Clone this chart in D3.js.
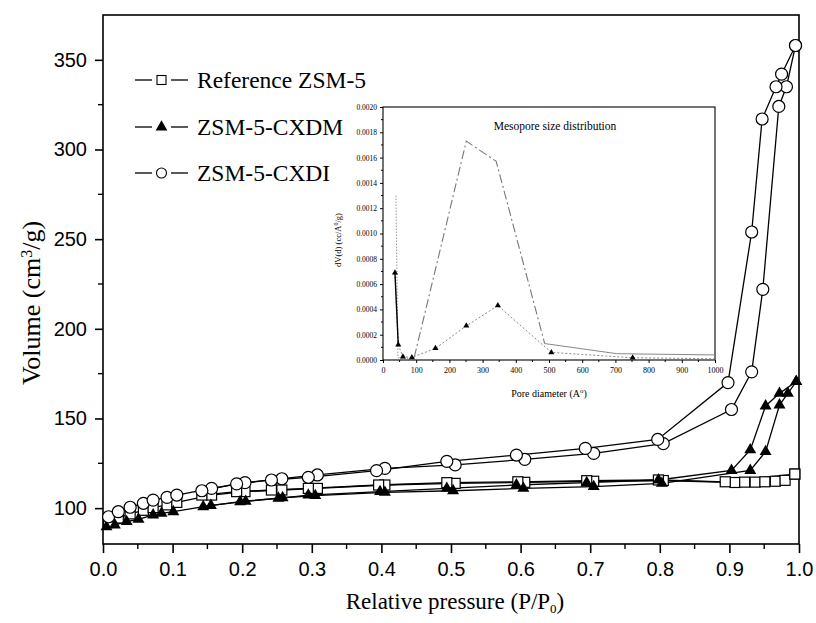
<!DOCTYPE html>
<html><head><meta charset="utf-8">
<script src="https://cdn.jsdelivr.net/npm/d3@7"></script>
<style>
html,body{margin:0;padding:0;background:#fff;}
svg{display:block;}
.serif{font-family:"Liberation Serif","Times New Roman",serif;}
.sans{font-family:"Liberation Sans",Arial,sans-serif;}
</style></head>
<body>
<script>
// ---------------- DATA ----------------
const xTicksMain = [0.0,0.1,0.2,0.3,0.4,0.5,0.6,0.7,0.8,0.9,1.0];
const yTicksMain = [100,150,200,250,300,350];
const seriesNames = ["Reference ZSM-5","ZSM-5-CXDM","ZSM-5-CXDI"];

// Reference ZSM-5 (open squares)
const refAds = [[0.008,92],[0.022,94.5],[0.039,96.8],[0.058,98.8],[0.072,100.3],[0.092,101.8],[0.106,103.2],[0.156,107.3],[0.204,109.2],[0.257,110.1],[0.308,111],[0.405,112.9],[0.506,113.8],[0.606,114.4],[0.705,115],[0.805,115.4],[0.908,114.3],[0.922,114.5],[0.937,114.5],[0.951,114.7],[0.966,115],[0.98,115.5],[0.994,119]];
const refDes = [[0.994,119],[0.894,114.7],[0.798,115.7],[0.695,115.3],[0.596,114.7],[0.494,114.2],[0.396,112.9],[0.295,111],[0.242,110.1],[0.192,109.2],[0.142,107.3]];

// ZSM-5-CXDM (filled triangles)
const cxdmAds = [[0.005,89.6],[0.017,90.6],[0.034,92.5],[0.051,93.8],[0.072,96.2],[0.084,97.1],[0.101,98],[0.155,101.5],[0.205,103.8],[0.258,105.8],[0.305,107],[0.405,108.8],[0.503,109.7],[0.604,111],[0.705,112],[0.803,113.8],[0.93,121],[0.952,131.5],[0.972,157.5],[0.984,164],[0.996,170.6]];
const cxdmDes = [[0.996,170.6],[0.972,164],[0.952,157],[0.93,132.5],[0.903,121],[0.798,115.7],[0.695,114.2],[0.594,112.9],[0.494,111],[0.398,109.2],[0.295,107.3],[0.252,105.5],[0.197,103.6],[0.144,100.8]];

// ZSM-5-CXDI (open circles)
const cxdiAds = [[0.008,95.2],[0.022,98],[0.039,100.5],[0.058,102.7],[0.072,104.5],[0.092,106],[0.106,107.3],[0.156,111],[0.204,114.2],[0.257,116.4],[0.308,118.5],[0.405,122.2],[0.506,124.1],[0.606,127.2],[0.705,130.5],[0.805,136],[0.903,155],[0.932,176],[0.948,222],[0.971,324],[0.982,335],[0.995,358]];
const cxdiDes = [[0.995,358],[0.975,342],[0.967,335],[0.947,317],[0.932,254],[0.898,170],[0.797,138.3],[0.693,133.3],[0.594,129.6],[0.494,126.1],[0.393,120.9],[0.295,117.2],[0.242,115.7],[0.192,113.5],[0.142,109.7]];

// Inset: mesopore size distribution
const insetXTicks = [0,100,200,300,400,500,600,700,800,900,1000];
const insetYTicks = [0,0.0002,0.0004,0.0006,0.0008,0.0010,0.0012,0.0014,0.0016,0.0018,0.0020];
const insetCxdiSpike = [[39,0.00130],[45,0.00002],[62,0.00001],[94,0.00002]];
const insetCxdiRise = [[94,0.00002],[251,0.00173],[341,0.00157],[487,0.00013]];
const insetCxdiTail = [[487,0.00013],[704,0.00005],[1000,0.00004]];
const insetCxdm = [[36,0.00069],[46,0.00012],[60,0.000026],[87,0.00002],[158,0.000092],[251,0.00027],[346,0.00043],[507,0.00006],[752,0.000018],[1000,0.00001]];

// ---------------- DRAW ----------------
const W=816, H=623;
const svg = d3.select("body").append("svg").attr("width",W).attr("height",H);
const x = d3.scaleLinear().domain([0,1]).range([103,799]);
const y = d3.scaleLinear().domain([80,375]).range([544,15]);

// frame
svg.append("rect").attr("x",x(0)).attr("y",y(375)).attr("width",x(1)-x(0)).attr("height",y(80)-y(375))
  .attr("fill","none").attr("stroke","#000").attr("stroke-width",1.6);

// x axis
const xAx = svg.append("g").attr("transform",`translate(0,${y(80)})`)
  .call(d3.axisBottom(x).tickValues(xTicksMain).tickFormat(d3.format(".1f")).tickSize(9).tickPadding(9));
xAx.select(".domain").remove();
xAx.attr("font-family",null);
xAx.selectAll("line").attr("stroke-width",1.6);
xAx.selectAll("text").attr("class","sans").attr("font-size",20).attr("fill","#000");
const xMinor = d3.range(0.05,1,0.1);
svg.append("g").selectAll("line").data(xMinor).join("line")
  .attr("x1",d=>x(d)).attr("x2",d=>x(d)).attr("y1",y(80)).attr("y2",y(80)+5)
  .attr("stroke","#000").attr("stroke-width",1.4);

// y axis
const yAx = svg.append("g").attr("transform",`translate(${x(0)},0)`)
  .call(d3.axisLeft(y).tickValues(yTicksMain).tickFormat(d3.format("d")).tickSize(8).tickPadding(8));
yAx.select(".domain").remove();
yAx.attr("font-family",null);
yAx.selectAll("line").attr("stroke-width",1.6);
yAx.selectAll("text").attr("class","sans").attr("font-size",20).attr("fill","#000");
const yMinor = [125,175,225,275,325];
svg.append("g").selectAll("line").data(yMinor).join("line")
  .attr("x1",x(0)-5).attr("x2",x(0)).attr("y1",d=>y(d)).attr("y2",d=>y(d))
  .attr("stroke","#000").attr("stroke-width",1.4);

// axis titles
svg.append("text").attr("class","serif").attr("x",455).attr("y",609).attr("text-anchor","middle")
  .attr("font-size",23).attr("fill","#000")
  .html("Relative pressure (P/P<tspan dy='4' font-size='13'>0</tspan><tspan dy='-4'>)</tspan>");
svg.append("text").attr("class","serif").attr("transform","translate(40,303) rotate(-90)").attr("text-anchor","middle")
  .attr("font-size",26).attr("fill","#000")
  .html("Volume (cm<tspan baseline-shift='super' font-size='16'>3</tspan>/g)");

// lines
const line = d3.line().x(d=>x(d[0])).y(d=>y(d[1]));
[refAds,refDes,cxdmAds,cxdmDes,cxdiAds,cxdiDes].forEach(s=>{
  svg.append("path").datum(s).attr("d",line).attr("fill","none").attr("stroke","#000").attr("stroke-width",1.3);
});

// markers
svg.append("g").selectAll("rect").data(refAds.concat(refDes)).join("rect")
  .attr("x",d=>x(d[0])-5).attr("y",d=>y(d[1])-5).attr("width",10).attr("height",10)
  .attr("fill","#fff").attr("stroke","#000").attr("stroke-width",1.2);
const tri = d3.symbol().type(d3.symbolTriangle).size(62);
svg.append("g").selectAll("path").data(cxdmAds.concat(cxdmDes)).join("path")
  .attr("d",tri).attr("transform",d=>`translate(${x(d[0])},${y(d[1])})`).attr("fill","#000");
svg.append("g").selectAll("circle").data(cxdiAds.concat(cxdiDes)).join("circle")
  .attr("cx",d=>x(d[0])).attr("cy",d=>y(d[1])).attr("r",6)
  .attr("fill","#fff").attr("stroke","#000").attr("stroke-width",1.2);

// legend
const legRows = [80,127,173];
const leg = svg.append("g");
seriesNames.forEach((name,i)=>{
  const cy = legRows[i];
  leg.append("line").attr("x1",135).attr("x2",152).attr("y1",cy).attr("y2",cy).attr("stroke","#000").attr("stroke-width",1.3);
  leg.append("line").attr("x1",171).attr("x2",188).attr("y1",cy).attr("y2",cy).attr("stroke","#000").attr("stroke-width",1.3);
  if(i===0) leg.append("rect").attr("x",157).attr("y",cy-4.5).attr("width",9).attr("height",9).attr("fill","#fff").attr("stroke","#000").attr("stroke-width",1.1);
  if(i===1) leg.append("path").attr("d",d3.symbol().type(d3.symbolTriangle).size(60)).attr("transform",`translate(161.5,${cy})`).attr("fill","#000");
  if(i===2) leg.append("circle").attr("cx",161.5).attr("cy",cy).attr("r",5).attr("fill","#fff").attr("stroke","#000").attr("stroke-width",1.1);
  leg.append("text").attr("class","serif").attr("x",197).attr("y",cy+8).attr("font-size",23.5).attr("fill","#000").text(name);
});

// ---------------- INSET ----------------
const x2 = d3.scaleLinear().domain([0,1000]).range([383,715]);
const y2 = d3.scaleLinear().domain([0,0.002]).range([360,107]);
const ins = svg.append("g");
ins.append("rect").attr("x",x2(0)).attr("y",y2(0.002)).attr("width",x2(1000)-x2(0)).attr("height",y2(0)-y2(0.002))
  .attr("fill","#fff").attr("stroke","#000").attr("stroke-width",1.1);
const ix = ins.append("g").attr("transform",`translate(0,${y2(0)})`)
  .call(d3.axisBottom(x2).tickValues(insetXTicks).tickFormat(d3.format("d")).tickSize(3).tickPadding(4));
ix.select(".domain").remove();
ix.attr("font-family",null);
ix.selectAll("text").attr("class","serif").attr("font-size",8).attr("fill","#000");
ins.append("g").selectAll("line").data(d3.range(50,1000,100)).join("line")
  .attr("x1",d=>x2(d)).attr("x2",d=>x2(d)).attr("y1",y2(0)).attr("y2",y2(0)+2).attr("stroke","#000");
const iy = ins.append("g").attr("transform",`translate(${x2(0)},0)`)
  .call(d3.axisLeft(y2).tickValues(insetYTicks).tickFormat(d3.format(".4f")).tickSize(3).tickPadding(3));
iy.select(".domain").remove();
iy.attr("font-family",null);
iy.selectAll("text").attr("class","serif").attr("font-size",7.5).attr("fill","#000");
ins.append("g").selectAll("line").data(d3.range(0.0001,0.002,0.0002)).join("line")
  .attr("x1",x2(0)-2).attr("x2",x2(0)).attr("y1",d=>y2(d)).attr("y2",d=>y2(d)).attr("stroke","#000");

ins.append("text").attr("class","serif").attr("x",555).attr("y",130).attr("text-anchor","middle")
  .attr("font-size",11.5).attr("fill","#000").text("Mesopore size distribution");
ins.append("text").attr("class","serif").attr("x",549).attr("y",397).attr("text-anchor","middle")
  .attr("font-size",10).attr("fill","#000")
  .html("Pore diameter (A<tspan baseline-shift='super' font-size='7'>o</tspan>)");
ins.append("text").attr("class","serif").attr("transform","translate(341,240) rotate(-90)").attr("text-anchor","middle")
  .attr("font-size",8.5).attr("fill","#000")
  .html("dV(d) (cc/A<tspan baseline-shift='super' font-size='6'>0</tspan>/g)");

const line2 = d3.line().x(d=>x2(d[0])).y(d=>y2(d[1]));
ins.append("path").datum(insetCxdiSpike).attr("d",line2).attr("fill","none").attr("stroke","#999").attr("stroke-width",1).attr("stroke-dasharray","1.5,1.5");
ins.append("path").datum(insetCxdiRise).attr("d",line2).attr("fill","none").attr("stroke","#777").attr("stroke-width",1.1).attr("stroke-dasharray","9,3,2,3");
ins.append("path").datum(insetCxdiTail).attr("d",line2).attr("fill","none").attr("stroke","#888").attr("stroke-width",1);
ins.append("path").datum(insetCxdm).attr("d",line2).attr("fill","none").attr("stroke","#888").attr("stroke-width",1).attr("stroke-dasharray","2,2");
ins.append("path").datum(insetCxdm.slice(0,2)).attr("d",line2).attr("fill","none").attr("stroke","#000").attr("stroke-width",1.4);
ins.append("g").selectAll("path").data(insetCxdm.slice(0,9)).join("path")
  .attr("d",d3.symbol().type(d3.symbolTriangle).size(16)).attr("transform",d=>`translate(${x2(d[0])},${y2(d[1])})`).attr("fill","#000");
</script>
</body></html>
